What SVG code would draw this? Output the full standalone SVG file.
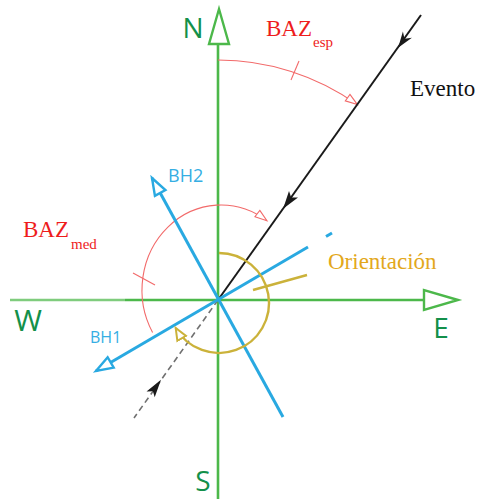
<svg xmlns="http://www.w3.org/2000/svg" width="477" height="499" viewBox="0 0 477 499">
<style>
.axis{stroke:#4cb84a;stroke-width:2.6;fill:none}
.axhead{stroke:#4cb84a;stroke-width:2.4;fill:#fff;stroke-linejoin:miter}
.axlbl{font-family:'Open Sans','Liberation Sans',sans-serif;fill:#13904a;text-anchor:middle}
.bh{stroke:#29a9e1;stroke-width:3;fill:none}
.bhlbl{font-family:'Open Sans','Liberation Sans',sans-serif;fill:#35aee3}
.red{stroke:#f26a6a;stroke-width:1.1;fill:none}
.redtxt{font-family:'Liberation Serif','Times New Roman',serif;fill:#ee1c1c}
.gold{stroke:#cbb23a;stroke-width:2.4;fill:none}
.ev{stroke:#1a1a1a;stroke-width:2;fill:none}
.evhead{fill:#1a1a1a}
.dash{stroke:#707070;stroke-width:1.6;stroke-dasharray:6 4;fill:none}
</style>
<defs>
<marker id="mRed" markerUnits="userSpaceOnUse" markerWidth="16" markerHeight="12" refX="13" refY="6" orient="auto">
<path d="M1,2 L13,6 L1,10 Z" fill="#fff" stroke="#f26a6a" stroke-width="1.1"/>
</marker>
<marker id="mGold" markerUnits="userSpaceOnUse" markerWidth="16" markerHeight="14" refX="13" refY="7" orient="auto">
<path d="M1,2 L13,7 L1,12 Z" fill="#fff" stroke="#cbb23a" stroke-width="2"/>
</marker>
<marker id="mBlue" markerUnits="userSpaceOnUse" markerWidth="22" markerHeight="16" refX="19" refY="8" orient="auto">
<path d="M2,2 L19,8 L2,14 Z" fill="#fff" stroke="#29a9e1" stroke-width="2.4"/>
</marker>
</defs>

<g id="connectors">
<!-- axes -->
<line class="axis" x1="218" y1="44" x2="218" y2="499"/>
<line class="axis" x1="125" y1="300" x2="424" y2="300"/>
<line x1="10" y1="300" x2="125" y2="300" stroke="#7fcc7d" stroke-width="2.6"/>
<polygon class="axhead" points="219,9 229,44 209,44"/>
<polygon class="axhead" points="458,300 424,290 424,310"/>

<!-- BAZ esp arc -->
<path class="red" d="M218,60 A240,240 0 0 1 357.4,104.6" marker-end="url(#mRed)"/>
<line class="red" x1="291" y1="80" x2="299" y2="61"/>
<!-- BAZ med arc -->
<path class="red" d="M152.6,332.5 A79,85 0 0 1 266.9,220.8" marker-end="url(#mRed)"/>
<line class="red" x1="133" y1="273" x2="155" y2="285"/>

<!-- event line -->
<line class="ev" x1="421" y1="15" x2="218" y2="300"/>
<polygon class="evhead" points="398.1,47.7 411.9,37.8 404.5,38.7 402.9,31.4"/>
<polygon class="evhead" points="283.1,208.8 298,197.4 291.2,197.4 289,191"/>
<line class="dash" x1="218" y1="300" x2="134" y2="418"/>
<polygon class="evhead" points="161,379.8 154.7,397.3 152.9,391.2 146.5,391.5"/>

<!-- BH lines -->
<line class="bh" x1="283" y1="417" x2="152" y2="178" marker-end="url(#mBlue)"/>
<line class="bh" x1="308" y1="247" x2="96" y2="371" marker-end="url(#mBlue)"/>
<line class="bh" x1="326" y1="236.5" x2="332" y2="233"/>

<!-- Orientation arc -->
<path class="gold" d="M219,253 A50,50 0 1 1 175.7,328" marker-end="url(#mGold)"/>
<line class="gold" x1="253" y1="290" x2="307" y2="275"/>
</g>

<g id="N"><text class="axlbl" x="193" y="38" font-size="28">N</text></g>
<g id="E"><text class="axlbl" x="441" y="338" font-size="28">E</text></g>
<g id="S"><text class="axlbl" x="203" y="491" font-size="28">S</text></g>
<g id="W"><text class="axlbl" x="28" y="331" font-size="30">W</text></g>

<g id="BH2"><text class="bhlbl" x="168" y="182" font-size="18">BH2</text></g>
<g id="BH1"><text class="bhlbl" x="90" y="343" font-size="16">BH1</text></g>

<g id="BAZesp"><text class="redtxt" x="266" y="36" font-size="23">BAZ<tspan x="313" y="47" font-size="15">esp</tspan></text></g>
<g id="BAZmed"><text class="redtxt" x="23" y="237" font-size="23">BAZ<tspan x="71" y="249" font-size="15">med</tspan></text></g>
<g id="Evento"><text x="410" y="96" font-size="23" font-family="'Liberation Serif','Times New Roman',serif" fill="#111">Evento</text></g>
<g id="Orientacion"><text x="328" y="269" font-size="23" font-family="'Liberation Serif','Times New Roman',serif" fill="#e3a81c">Orientación</text></g>
</svg>
